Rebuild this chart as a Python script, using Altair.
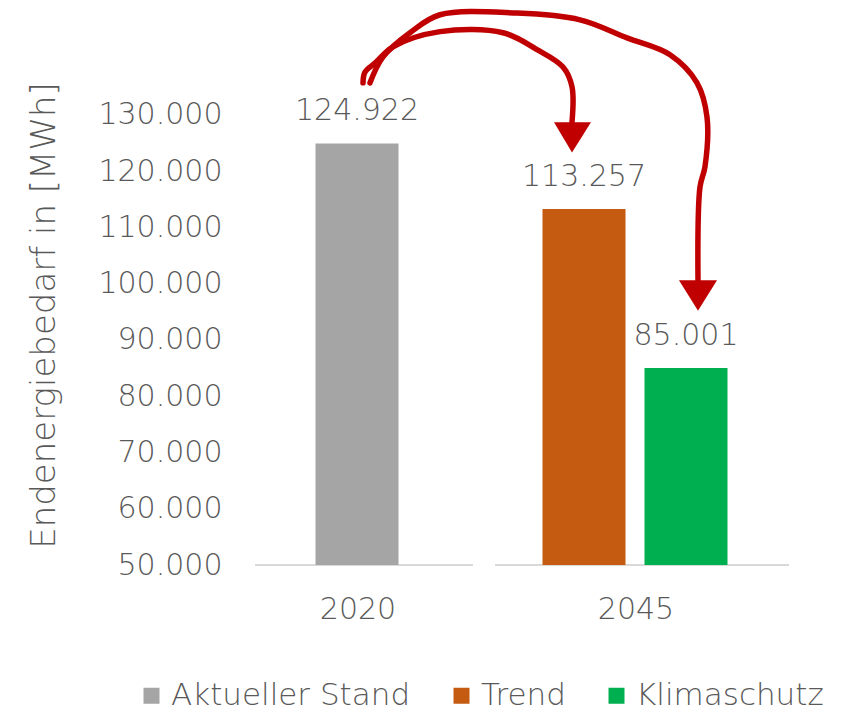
import altair as alt
import pandas as pd

# ---------------- data ----------------
years = ["2020", "2045"]
series = ["Aktueller Stand", "Trend", "Klimaschutz"]
bar_year = ["2020", "2045", "2045"]
values = [124922, 113257, 85001]
colors = ["#A5A5A5", "#C55A11", "#00B050"]

y_min = 50000
y_max_visible = 149000
y_ticks = [50000, 60000, 70000, 80000, 90000, 100000, 110000, 120000, 130000]
y_title = "Endenergiebedarf in [MWh]"

# hand-drawn arrows (x in layout units across the plot, y in MWh)
arrow_trend_x = [108, 110, 120, 138, 185, 248, 282, 308, 317, 317]
arrow_trend_y = [135700, 137600, 139200, 142100, 144800, 144600, 141600, 138500, 135000, 128700]
arrow_klima_x = [115, 128, 155, 185, 262, 325, 372, 415, 442, 452, 450, 445, 443]
arrow_klima_y = [135700, 140300, 144600, 147800, 148100, 146900, 143700, 140700, 135700,
                 129600, 120800, 117200, 100600]
head_trend_x = [299, 317, 336]
head_trend_base = 128700
head_trend_tip = 123300
head_klima_x = [424, 443, 462]
head_klima_base = 100600
head_klima_tip = 95200

# ---------------- layout ----------------
GROUP_W = [218, 294]
GAP = 22
BAR_W = 83
PITCH = 102
SHIFT = -7
TOTAL_W = sum(GROUP_W) + GAP
PLOT_H = 557

FONT = "DejaVu Sans"
FW = 200
TXT = "#595959"
RED = "#C00000"

starts = [0, GROUP_W[0] + GAP]
centers = [s + w / 2 for s, w in zip(starts, GROUP_W)]

bar_rows = []
for yi, yr in enumerate(years):
    idx = [i for i, b in enumerate(bar_year) if b == yr]
    n = len(idx)
    for k, i in enumerate(idx):
        c = centers[yi] + SHIFT + (k - (n - 1) / 2) * PITCH
        bar_rows.append({
            "series": series[i], "year": yr, "value": values[i], "base": y_min,
            "x0": c - BAR_W / 2, "x1": c + BAR_W / 2, "xc": c,
            "label": f"{values[i]:,}".replace(",", "."),
        })
bars_df = pd.DataFrame(bar_rows)

year_df = pd.DataFrame({"year": years, "xc": [c - 6 for c in centers], "base": y_min})
axis_df = pd.DataFrame({"s": starts, "e": [s + w for s, w in zip(starts, GROUP_W)], "base": y_min})

line_rows = []
for name, xv_list, yv_list in [("trend", arrow_trend_x, arrow_trend_y), ("klima", arrow_klima_x, arrow_klima_y)]:
    for o, (xv, yv) in enumerate(zip(xv_list, yv_list)):
        line_rows.append({"arrow": name, "o": o, "x": xv, "y": yv})
lines_df = pd.DataFrame(line_rows)

head_rows = []
for name, hx, b, t in [("trend", head_trend_x, head_trend_base, head_trend_tip),
                       ("klima", head_klima_x, head_klima_base, head_klima_tip)]:
    head_rows.append({"arrow": name, "x": hx[0], "y": b, "y2": b})
    head_rows.append({"arrow": name, "x": hx[1], "y": b, "y2": t})
    head_rows.append({"arrow": name, "x": hx[2], "y": b, "y2": b})
heads_df = pd.DataFrame(head_rows)

xs = alt.Scale(domain=[0, TOTAL_W], nice=False, zero=False)
ys = alt.Scale(domain=[y_min, y_max_visible], nice=False, zero=False)

y_axis = alt.Axis(
    values=y_ticks, title=y_title, grid=False, domain=False, ticks=False,
    labelPadding=33, labelFont=FONT, labelFontSize=30, labelFontWeight=FW, labelColor=TXT,
    labelExpr="format(datum.value / 1000, 'd') + '.000'",
    titleFont=FONT, titleFontSize=34, titleFontWeight=FW, titleColor=TXT,
    titleX=-211, titleY=307, titleAlign="center", titleBaseline="middle", titleAngle=270,
)


def X(field):
    return alt.X(field, scale=xs, axis=None)


def Y(field):
    return alt.Y(field, scale=ys, axis=y_axis)


bars = alt.Chart(bars_df).mark_bar().encode(
    x=X("x0:Q"),
    x2="x1:Q",
    y=Y("value:Q"),
    y2="base:Q",
    color=alt.Color(
        "series:N",
        scale=alt.Scale(domain=series, range=colors),
        legend=alt.Legend(
            title=None, orient="none", legendX=-119, legendY=672, direction="horizontal",
            symbolType="square", symbolSize=256, symbolStrokeWidth=0, symbolOpacity=1,
            labelFont=FONT, labelFontSize=31, labelFontWeight=FW, labelColor=TXT, labelLimit=400,
            labelOffset=4, columnPadding=35, padding=0,
        ),
    ),
)

baseline = alt.Chart(axis_df).mark_rule(color="#D9D9D9", strokeWidth=2).encode(
    x=X("s:Q"), x2="e:Q", y=Y("base:Q")
)

bar_labels = alt.Chart(bars_df).mark_text(
    font=FONT, fontSize=30, fontWeight=FW, color=TXT, baseline="alphabetic", dy=-23
).encode(
    x=X("xc:Q"), y=Y("value:Q"), text="label:N"
)

year_labels = alt.Chart(year_df).mark_text(
    font=FONT, fontSize=30, fontWeight=FW, color=TXT, baseline="alphabetic", dy=54
).encode(
    x=X("xc:Q"), y=Y("base:Q"), text="year:N"
)

arrow_lines = alt.Chart(lines_df).mark_line(
    color=RED, strokeWidth=5.5, strokeCap="round", strokeJoin="round", interpolate="catmull-rom"
).encode(
    x=X("x:Q"), y=Y("y:Q"), order="o:Q", detail="arrow:N"
)

arrow_heads = alt.Chart(heads_df).mark_area(color=RED, opacity=1).encode(
    x=X("x:Q"), y=Y("y:Q"), y2="y2:Q", detail="arrow:N"
)

chart = alt.layer(baseline, bars, bar_labels, year_labels, arrow_lines, arrow_heads).properties(
    width=TOTAL_W, height=PLOT_H,
    autosize=alt.AutoSizeParams(type="none"),
    padding={"left": 247, "top": 0, "right": 50, "bottom": 146},
    background="white",
).configure_view(strokeWidth=0)

chart.save("out.html", embed_options={"renderer": "svg", "actions": False})
